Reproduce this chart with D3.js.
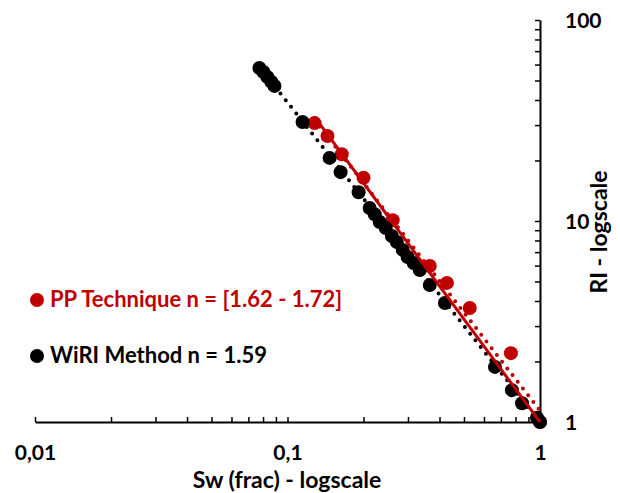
<!DOCTYPE html>
<html>
<head>
<meta charset="utf-8">
<script src="https://cdn.jsdelivr.net/npm/d3@7"></script>
<style>
  body { margin: 0; background: #fff; }
  svg text { font-family: Lato, "Open Sans", sans-serif; font-weight: bold; }
</style>
</head>
<body>
<div id="chart"></div>
<script>
// WiRI method points (Sw frac, RI)
var wiriSw = [0.0774, 0.0803, 0.0833, 0.0864, 0.0888, 0.1147, 0.1468, 0.1623, 0.1913,
              0.2115, 0.2215, 0.2318, 0.245, 0.259, 0.271, 0.286, 0.299, 0.316, 0.334,
              0.366, 0.420, 0.663, 0.774, 0.849, 0.973, 1.0];
var wiriRI = [57.7, 55.1, 52.0, 49.2, 47.0, 31.1, 20.6, 17.5, 13.9,
              11.6, 10.8, 9.89, 9.23, 8.42, 7.86, 7.18, 6.62, 6.18, 5.70,
              4.80, 3.91, 1.88, 1.44, 1.24, 1.05, 1.0];

// PP technique points
var ppSw = [0.128, 0.144, 0.164, 0.200, 0.261, 0.366, 0.428, 0.527, 0.767, 1.0];
var ppRI = [30.7, 26.5, 21.5, 16.4, 10.1, 5.97, 4.92, 3.69, 2.20, 1.0];

// trend lines RI = a * Sw^-n
var wiriTrend = {a: 1.0, n: 1.59, from: 0.0774, to: 1};
var ppTrendSolid = {a: 1.0, n: 1.70, from: 0.128, to: 1};
var ppTrendDotted = {a: 1.14, n: 1.62, from: 0.128, to: 1};

var xTicks = [0.01, 0.1, 1];
var yTicks = [1, 10, 100];
var legendLabels = ["PP Technique n = [1.62 - 1.72]", "WiRI Method n = 1.59"];

var red = "#C00000", black = "#000000";

var width = 620, height = 493;

var svg = d3.select("#chart").append("svg")
    .attr("width", width)
    .attr("height", height);

var x = d3.scaleLog().domain([0.01, 1]).range([35, 540]);
var y = d3.scaleLog().domain([1, 100]).range([422, 20]);

// all minor ticks 1..9 per decade
function minorTicks(lo, hi) {
    var t = [];
    for (var d = lo; d < hi; d *= 10) {
        for (var k = 1; k < 10; k++) t.push(+(d * k).toPrecision(3));
    }
    t.push(hi);
    return t;
}

var xAxis = d3.axisBottom(x)
    .tickValues(minorTicks(0.01, 1))
    .tickSizeInner(-5)
    .tickSizeOuter(0)
    .tickFormat(function(d) {
        return xTicks.indexOf(d) >= 0 ? String(d).replace(".", ",") : "";
    });

var yAxis = d3.axisRight(y)
    .tickValues(minorTicks(1, 100))
    .tickSizeInner(-5)
    .tickSizeOuter(0)
    .tickFormat(function(d) {
        return yTicks.indexOf(d) >= 0 ? d : "";
    });

var gx = svg.append("g")
    .attr("transform", "translate(0," + y(1) + ")")
    .call(xAxis);
gx.select(".domain").attr("stroke", black).attr("stroke-width", 2);
gx.selectAll(".tick line").attr("stroke", black).attr("stroke-width", 1.5);
gx.selectAll(".tick text")
    .attr("y", 38).attr("dy", null)
    .attr("fill", black)
    .style("font-size", "21px");

var gy = svg.append("g")
    .attr("transform", "translate(" + x(1) + ",0)")
    .call(yAxis);
gy.select(".domain").attr("stroke", black).attr("stroke-width", 2);
gy.selectAll(".tick line").attr("stroke", black).attr("stroke-width", 1.5);
gy.selectAll(".tick text")
    .attr("x", 25).attr("dy", "0.36em")
    .attr("text-anchor", "start")
    .attr("fill", black)
    .style("font-size", "21px");

// axis titles
svg.append("text")
    .attr("x", 287).attr("y", 488)
    .attr("text-anchor", "middle")
    .style("font-size", "23px")
    .text("Sw (frac) - logscale");

svg.append("text")
    .attr("transform", "translate(607,232) rotate(-90)")
    .attr("text-anchor", "middle")
    .style("font-size", "23px")
    .text("RI - logscale");

// points
var ppPts = ppSw.map(function(s, i) { return {sw: s, ri: ppRI[i]}; });
var wiriPts = wiriSw.map(function(s, i) { return {sw: s, ri: wiriRI[i]}; });

svg.append("g").selectAll("circle")
    .data(ppPts)
    .enter().append("circle")
    .attr("cx", function(d) { return x(d.sw); })
    .attr("cy", function(d) { return y(d.ri); })
    .attr("r", 7)
    .attr("fill", red);

svg.append("g").selectAll("circle")
    .data(wiriPts)
    .enter().append("circle")
    .attr("cx", function(d) { return x(d.sw); })
    .attr("cy", function(d) { return y(d.ri); })
    .attr("r", 7)
    .attr("fill", black);

// trend lines
var line = d3.line()
    .x(function(d) { return x(d[0]); })
    .y(function(d) { return y(d[1]); });

function trendPts(t) {
    return [[t.from, t.a * Math.pow(t.from, -t.n)], [t.to, t.a * Math.pow(t.to, -t.n)]];
}

svg.append("path")
    .datum(trendPts(wiriTrend))
    .attr("d", line)
    .attr("fill", "none")
    .attr("stroke", black)
    .attr("stroke-width", 4)
    .attr("stroke-linecap", "round")
    .attr("stroke-dasharray", "0 8.5");

svg.append("path")
    .datum(trendPts(ppTrendDotted))
    .attr("d", line)
    .attr("fill", "none")
    .attr("stroke", red)
    .attr("stroke-width", 4)
    .attr("stroke-linecap", "round")
    .attr("stroke-dasharray", "0 8.5");

svg.append("path")
    .datum(trendPts(ppTrendSolid))
    .attr("d", line)
    .attr("fill", "none")
    .attr("stroke", red)
    .attr("stroke-width", 3);

// legend
var legend = svg.append("g");
[red, black].forEach(function(c, i) {
    var ly = 300 + i * 56;
    legend.append("circle")
        .attr("cx", 37).attr("cy", ly)
        .attr("r", 7)
        .attr("fill", c);
    legend.append("text")
        .attr("x", 50).attr("y", ly + 7)
        .attr("fill", c)
        .style("font-size", "22px")
        .text(legendLabels[i]);
});
</script>
</body>
</html>
